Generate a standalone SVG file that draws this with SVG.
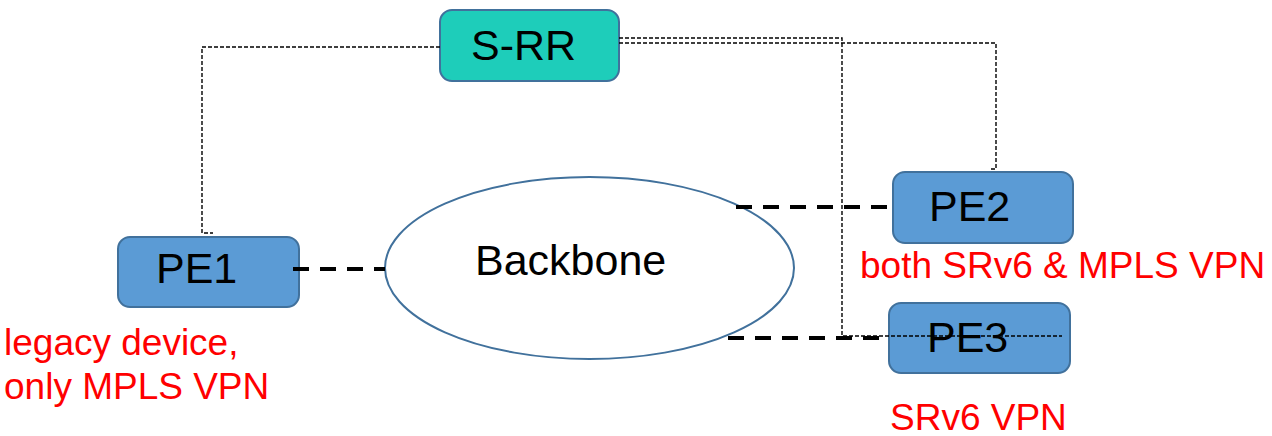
<svg xmlns="http://www.w3.org/2000/svg" width="1272" height="436" viewBox="0 0 1272 436">
<style>
.node{fill:#5B9BD5;stroke:#41719C;stroke-width:2}
.rr{fill:#1ECDBA;stroke:#41719C;stroke-width:2}
.lbl{font-family:"Liberation Sans",Arial,sans-serif;font-size:43px;fill:#000}
.red{font-family:"Liberation Sans",Arial,sans-serif;font-size:37px;fill:#FF0000}
.thick{fill:none;stroke:#000;stroke-width:4;stroke-dasharray:16 11}
.thin{fill:none;stroke:#000;stroke-width:1.4;stroke-dasharray:4 2}
</style>
<rect width="1272" height="436" fill="#fff"/>
<g id="backbone">
<ellipse cx="589.5" cy="268" rx="204.5" ry="91" fill="#fff" stroke="#41719C" stroke-width="2"/>
<text class="lbl" x="475" y="275">Backbone</text>
</g>
<g id="srr">
<rect class="rr" x="440" y="10" width="179" height="71" rx="12"/>
<text class="lbl" x="471" y="60">S-RR</text>
</g>
<g id="pe1">
<rect class="node" x="118" y="237" width="181" height="70" rx="12"/>
<text class="lbl" x="156" y="283">PE1</text>
</g>
<g id="pe2">
<rect class="node" x="893" y="172" width="180" height="71" rx="12"/>
<text class="lbl" x="929" y="221">PE2</text>
</g>
<g id="pe3">
<rect class="node" x="889" y="303" width="181" height="70" rx="12"/>
<text class="lbl" x="927" y="352">PE3</text>
</g>
<g id="labels">
<text class="red" x="4" y="355">legacy device,</text>
<text class="red" x="4" y="399">only MPLS VPN</text>
<text class="red" x="860" y="278">both SRv6 &amp; MPLS VPN</text>
<text class="red" x="890" y="430">SRv6 VPN</text>
</g>
<g id="connectors">
<line class="thick" x1="293" y1="269" x2="385" y2="269"/>
<line class="thick" x1="736" y1="207" x2="893" y2="207"/>
<line class="thick" x1="728" y1="338" x2="889" y2="338"/>
<polyline class="thin" points="440,47 202,47 202,233 213,233"/>
<polyline class="thin" points="619,38 842,38 842,336 1062,336"/>
<polyline class="thin" points="619,43 996,43 996,169 990,169"/>
</g>
</svg>
